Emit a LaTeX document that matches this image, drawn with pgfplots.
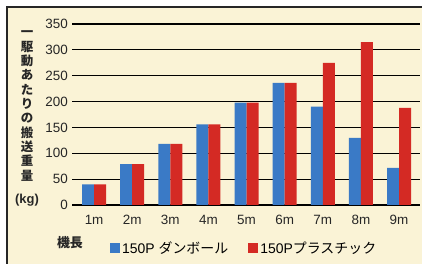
\documentclass[border=0pt]{standalone}
\usepackage{pgfplots}
\pgfplotsset{compat=1.18}
\usepackage{fontspec}
\setmainfont{Liberation Sans}
\newfontfamily\jp{Noto Sans CJK JP}
\definecolor{cream}{RGB}{250,243,214}
\definecolor{barblue}{RGB}{58,122,198}
\definecolor{barred}{RGB}{212,42,36}
\begin{document}
\begin{tikzpicture}[x=1bp,y=1bp]
\useasboundingbox (0,0) rectangle (422,264);
\fill[white] (0,0) rectangle (422,264);
\filldraw[fill=cream, draw=black!85, line width=1.4bp] (7,-10) rectangle (440,257);
\begin{axis}[
  at={(72bp,59bp)}, anchor=south west,
  scale only axis, width=348bp, height=181bp,
  xmin=0.42, xmax=9.55, ymin=0, ymax=350,
  ybar=0pt, bar width=0.315,
  xtick={1,...,9}, xticklabels={1m,2m,3m,4m,5m,6m,7m,8m,9m},
  ytick={0,50,...,350},
  major tick length=0,
  axis x line*=bottom, axis y line*=left,
  axis line style={black, line width=1.1bp, -},
  y axis line style={draw=none},
  ymajorgrids, grid style={black, line width=1.1bp},
  /pgf/number format/assume math mode=true,
  ticklabel style={font=\fontsize{13.5}{15}\selectfont, text=black!85},
  xticklabel style={anchor=base, yshift=-20bp, inner sep=0pt},
  yticklabel style={anchor=east, xshift=-4bp, inner sep=0pt},
  legend columns=2,
  legend style={at={(0.109,-0.2376)}, anchor=west, draw=none, fill=none,
    font=\fontsize{14}{16}\selectfont, inner sep=0pt,
    /tikz/every even column/.style={column sep=18bp}},
  legend image code/.code={\path[#1, draw=none] (0bp,-5bp) rectangle (10bp,5bp);},
]
\addplot[fill=barblue, draw=none] coordinates {(1,40) (2,79) (3,118) (4,156) (5,198) (6,236) (7,190) (8,130) (9,72)};
\addplot[fill=barred, draw=none] coordinates {(1,40) (2,79) (3,118) (4,156) (5,198) (6,236) (7,275) (8,315) (9,188)};
\legend{150P {\jp ダンボール}, 150P{\jp プラスチック}}
\end{axis}
\node[align=center, font=\jp\bfseries\fontsize{12.5}{14.4}\selectfont, text=black!85] at (27,158)
  {一\\駆\\動\\あ\\た\\り\\の\\搬\\送\\重\\量};
\node[font=\bfseries\fontsize{13}{15}\selectfont, text=black!85] at (27,64) {(kg)};
\node[font=\jp\bfseries\fontsize{13}{15}\selectfont, text=black!85] at (70,21) {機長};
\end{tikzpicture}
\end{document}
